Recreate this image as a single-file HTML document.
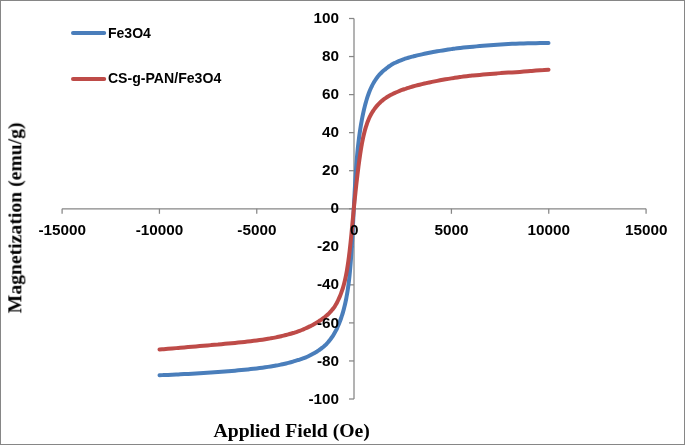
<!DOCTYPE html>
<html><head><meta charset="utf-8"><title>chart</title>
<style>
html,body{margin:0;padding:0;background:#fff;}
body{width:685px;height:445px;overflow:hidden;position:relative;font-family:"Liberation Sans",sans-serif;}
svg{position:absolute;left:0;top:0;display:block;}
.tick{font-family:"Liberation Sans",sans-serif;font-weight:bold;font-size:15.3px;letter-spacing:0px;fill:#000;}
.leg{font-family:"Liberation Sans",sans-serif;font-weight:bold;font-size:15px;fill:#000;}
.ttl{font-family:"Liberation Serif",serif;font-weight:bold;font-size:19.7px;fill:#000;}
</style></head><body>
<svg width="685" height="445" viewBox="0 0 685 445">
<rect x="0" y="0" width="685" height="445" fill="#ffffff"/>
<g fill="#868686" shape-rendering="crispEdges"><rect x="0" y="0" width="685" height="1"/><rect x="0" y="444" width="685" height="1"/><rect x="0" y="0" width="1" height="445"/><rect x="684" y="0" width="1" height="445"/></g>

<g stroke="#868686" stroke-width="1.25" fill="none">
<line x1="354.00" y1="18.50" x2="354.00" y2="399.00"/>
<line x1="62.10" y1="208.80" x2="646.08" y2="208.80"/>
<line x1="349.00" y1="18.50" x2="354.00" y2="18.50"/>
<line x1="349.00" y1="56.55" x2="354.00" y2="56.55"/>
<line x1="349.00" y1="94.60" x2="354.00" y2="94.60"/>
<line x1="349.00" y1="132.65" x2="354.00" y2="132.65"/>
<line x1="349.00" y1="170.70" x2="354.00" y2="170.70"/>
<line x1="349.00" y1="208.75" x2="354.00" y2="208.75"/>
<line x1="349.00" y1="246.80" x2="354.00" y2="246.80"/>
<line x1="349.00" y1="284.85" x2="354.00" y2="284.85"/>
<line x1="349.00" y1="322.90" x2="354.00" y2="322.90"/>
<line x1="349.00" y1="360.95" x2="354.00" y2="360.95"/>
<line x1="349.00" y1="399.00" x2="354.00" y2="399.00"/>
<line x1="62.10" y1="208.80" x2="62.10" y2="213.80"/>
<line x1="159.43" y1="208.80" x2="159.43" y2="213.80"/>
<line x1="256.76" y1="208.80" x2="256.76" y2="213.80"/>
<line x1="354.09" y1="208.80" x2="354.09" y2="213.80"/>
<line x1="451.42" y1="208.80" x2="451.42" y2="213.80"/>
<line x1="548.75" y1="208.80" x2="548.75" y2="213.80"/>
<line x1="646.08" y1="208.80" x2="646.08" y2="213.80"/>
</g>
<path d="M159.50,375.23 C160.21,375.20 162.34,375.12 163.75,375.06 C165.16,375.00 166.56,374.94 167.96,374.88 C169.35,374.82 170.73,374.75 172.11,374.69 C173.48,374.63 174.85,374.57 176.21,374.50 C177.56,374.44 178.91,374.37 180.26,374.31 C181.60,374.24 182.93,374.18 184.25,374.11 C185.58,374.04 186.89,373.98 188.20,373.91 C189.51,373.84 190.81,373.77 192.10,373.70 C193.39,373.63 194.67,373.56 195.94,373.48 C197.22,373.41 198.48,373.34 199.74,373.26 C201.00,373.19 202.25,373.11 203.49,373.03 C204.73,372.96 205.96,372.88 207.18,372.80 C208.40,372.72 209.62,372.64 210.83,372.56 C212.03,372.48 213.23,372.39 214.42,372.31 C215.61,372.23 216.79,372.14 217.97,372.05 C219.14,371.97 220.31,371.88 221.46,371.79 C222.62,371.70 223.77,371.61 224.91,371.51 C226.05,371.42 227.18,371.33 228.31,371.23 C229.43,371.13 230.55,371.04 231.65,370.94 C232.76,370.84 233.86,370.74 234.95,370.65 C236.04,370.55 237.13,370.45 238.20,370.35 C239.28,370.25 240.34,370.15 241.40,370.05 C242.46,369.95 243.51,369.85 244.55,369.75 C245.60,369.64 246.63,369.54 247.66,369.43 C248.68,369.33 249.70,369.22 250.71,369.11 C251.72,369.00 252.72,368.89 253.72,368.77 C254.71,368.66 255.70,368.54 256.67,368.42 C257.65,368.30 258.62,368.18 259.58,368.06 C260.54,367.93 261.50,367.80 262.44,367.68 C263.39,367.55 264.33,367.42 265.26,367.29 C266.19,367.16 267.11,367.03 268.02,366.89 C268.94,366.76 269.84,366.62 270.74,366.48 C271.64,366.34 272.53,366.19 273.41,366.04 C274.29,365.89 275.17,365.74 276.03,365.58 C276.90,365.42 277.76,365.26 278.61,365.09 C279.46,364.92 280.30,364.75 281.14,364.57 C281.97,364.39 282.80,364.21 283.62,364.02 C284.44,363.83 285.25,363.64 286.05,363.44 C286.85,363.24 287.65,363.04 288.44,362.83 C289.23,362.62 290.01,362.41 290.78,362.20 C291.55,361.98 292.32,361.77 293.08,361.55 C293.83,361.33 294.58,361.10 295.32,360.88 C296.07,360.65 296.80,360.43 297.53,360.21 C298.25,360.00 298.97,359.80 299.68,359.58 C300.39,359.37 301.10,359.16 301.79,358.93 C302.49,358.70 303.18,358.47 303.86,358.21 C304.54,357.94 305.21,357.65 305.88,357.37 C306.55,357.08 307.20,356.78 307.85,356.48 C308.51,356.18 309.15,355.87 309.78,355.55 C310.42,355.24 311.05,354.92 311.67,354.59 C312.29,354.27 312.90,353.94 313.51,353.60 C314.12,353.26 314.71,352.91 315.31,352.56 C315.90,352.20 316.48,351.84 317.06,351.48 C317.63,351.11 318.20,350.73 318.76,350.35 C319.33,349.96 319.88,349.57 320.43,349.17 C320.97,348.77 321.51,348.36 322.05,347.94 C322.58,347.52 323.10,347.10 323.62,346.65 C324.14,346.21 324.65,345.75 325.16,345.27 C325.66,344.79 326.16,344.30 326.64,343.79 C327.13,343.28 327.62,342.75 328.09,342.21 C328.57,341.67 329.03,341.12 329.49,340.55 C329.96,339.98 330.41,339.39 330.86,338.79 C331.30,338.19 331.74,337.57 332.17,336.93 C332.61,336.30 333.03,335.64 333.45,334.96 C333.87,334.28 334.28,333.57 334.69,332.85 C335.09,332.13 335.49,331.39 335.88,330.63 C336.27,329.87 336.65,329.10 337.03,328.29 C337.41,327.49 337.78,326.66 338.14,325.81 C338.51,324.96 338.86,324.08 339.21,323.20 C339.56,322.32 339.90,321.42 340.24,320.51 C340.58,319.60 340.91,318.68 341.23,317.74 C341.55,316.80 341.87,315.84 342.18,314.86 C342.49,313.87 342.79,312.86 343.09,311.83 C343.38,310.79 343.67,309.73 343.96,308.64 C344.24,307.55 344.52,306.44 344.79,305.29 C345.06,304.15 345.32,302.97 345.58,301.77 C345.84,300.56 346.09,299.32 346.33,298.05 C346.58,296.77 346.81,295.46 347.05,294.11 C347.28,292.76 347.50,291.37 347.72,289.93 C347.94,288.49 348.15,287.01 348.36,285.47 C348.57,283.93 348.77,282.35 348.96,280.70 C349.16,279.05 349.35,277.35 349.53,275.59 C349.71,273.83 349.89,272.01 350.06,270.14 C350.23,268.28 350.39,266.35 350.55,264.40 C350.71,262.44 350.86,260.44 351.01,258.42 C351.15,256.41 351.29,254.35 351.43,252.31 C351.56,250.28 351.69,248.21 351.81,246.19 C351.94,244.17 352.06,242.14 352.17,240.18 C352.28,238.22 352.39,236.29 352.49,234.43 C352.59,232.57 352.68,230.76 352.77,229.05 C352.86,227.33 352.95,225.68 353.03,224.13 C353.11,222.58 353.18,221.11 353.25,219.74 C353.32,218.38 353.38,217.10 353.44,215.93 C353.50,214.76 353.55,213.69 353.60,212.71 C353.65,211.73 353.69,210.86 353.73,210.07 C353.77,209.29 353.81,208.61 353.84,208.01 C353.87,207.41 353.89,206.91 353.91,206.48 C353.93,206.06 353.95,205.73 353.96,205.47 C353.98,205.21 353.99,205.03 353.99,204.92 C354.00,204.80 354.00,204.81 354.00,204.76 C354.00,204.71 354.00,204.73 354.01,204.61 C354.01,204.49 354.02,204.32 354.04,204.06 C354.05,203.80 354.07,203.47 354.09,203.05 C354.11,202.63 354.13,202.14 354.16,201.55 C354.19,200.96 354.23,200.29 354.27,199.53 C354.31,198.78 354.35,197.93 354.40,197.00 C354.45,196.07 354.50,195.04 354.56,193.94 C354.62,192.84 354.68,191.65 354.75,190.40 C354.82,189.14 354.89,187.79 354.97,186.39 C355.05,184.99 355.14,183.51 355.23,181.99 C355.32,180.46 355.41,178.87 355.51,177.26 C355.61,175.64 355.72,173.97 355.83,172.29 C355.94,170.61 356.06,168.90 356.19,167.19 C356.31,165.48 356.44,163.75 356.57,162.05 C356.71,160.34 356.85,158.63 356.99,156.94 C357.14,155.26 357.29,153.58 357.45,151.94 C357.61,150.29 357.77,148.67 357.94,147.07 C358.11,145.48 358.29,143.90 358.47,142.36 C358.65,140.81 358.84,139.29 359.04,137.79 C359.23,136.29 359.43,134.81 359.64,133.36 C359.85,131.90 360.06,130.47 360.28,129.06 C360.50,127.65 360.72,126.26 360.95,124.89 C361.19,123.52 361.42,122.18 361.67,120.85 C361.91,119.52 362.16,118.21 362.42,116.92 C362.68,115.63 362.94,114.36 363.21,113.11 C363.48,111.87 363.76,110.64 364.04,109.43 C364.33,108.22 364.62,107.04 364.91,105.87 C365.21,104.71 365.51,103.57 365.82,102.46 C366.13,101.36 366.45,100.27 366.77,99.22 C367.09,98.17 367.42,97.15 367.76,96.16 C368.10,95.16 368.44,94.20 368.79,93.26 C369.14,92.33 369.49,91.42 369.86,90.54 C370.22,89.66 370.59,88.81 370.97,87.99 C371.35,87.16 371.73,86.37 372.12,85.60 C372.51,84.83 372.91,84.08 373.31,83.36 C373.72,82.64 374.13,81.94 374.55,81.26 C374.97,80.58 375.39,79.92 375.83,79.29 C376.26,78.66 376.70,78.05 377.14,77.47 C377.59,76.89 378.04,76.33 378.51,75.78 C378.97,75.24 379.43,74.72 379.91,74.21 C380.38,73.69 380.87,73.19 381.36,72.71 C381.84,72.23 382.34,71.76 382.84,71.31 C383.35,70.86 383.86,70.42 384.38,70.00 C384.90,69.57 385.42,69.16 385.95,68.74 C386.49,68.33 387.03,67.91 387.57,67.50 C388.12,67.09 388.67,66.66 389.24,66.26 C389.80,65.86 390.37,65.46 390.94,65.09 C391.52,64.72 392.10,64.38 392.69,64.05 C393.29,63.71 393.88,63.40 394.49,63.09 C395.10,62.78 395.71,62.48 396.33,62.19 C396.95,61.90 397.58,61.62 398.22,61.35 C398.85,61.08 399.49,60.81 400.15,60.55 C400.80,60.30 401.45,60.05 402.12,59.80 C402.79,59.56 403.46,59.32 404.14,59.09 C404.82,58.86 405.51,58.64 406.21,58.42 C406.90,58.20 407.61,57.99 408.32,57.78 C409.03,57.57 409.75,57.36 410.47,57.16 C411.20,56.95 411.93,56.76 412.68,56.56 C413.42,56.36 414.17,56.17 414.92,55.98 C415.68,55.79 416.45,55.61 417.22,55.42 C417.99,55.24 418.77,55.06 419.56,54.88 C420.35,54.70 421.15,54.52 421.95,54.34 C422.75,54.17 423.56,53.99 424.38,53.82 C425.20,53.65 426.03,53.48 426.86,53.31 C427.70,53.14 428.54,52.97 429.39,52.80 C430.24,52.64 431.10,52.47 431.97,52.31 C432.83,52.14 433.71,51.98 434.59,51.82 C435.47,51.66 436.36,51.50 437.26,51.34 C438.16,51.19 439.06,51.03 439.98,50.88 C440.89,50.72 441.81,50.57 442.74,50.42 C443.67,50.27 444.61,50.12 445.56,49.97 C446.50,49.83 447.46,49.68 448.42,49.54 C449.38,49.39 450.35,49.25 451.33,49.11 C452.30,48.96 453.29,48.83 454.28,48.69 C455.28,48.55 456.28,48.42 457.29,48.29 C458.30,48.16 459.32,48.03 460.34,47.91 C461.37,47.79 462.40,47.67 463.45,47.56 C464.49,47.45 465.54,47.34 466.60,47.23 C467.66,47.13 468.72,47.03 469.80,46.93 C470.87,46.83 471.96,46.73 473.05,46.64 C474.14,46.55 475.24,46.46 476.35,46.37 C477.45,46.28 478.57,46.19 479.69,46.11 C480.82,46.02 481.95,45.94 483.09,45.86 C484.23,45.77 485.38,45.69 486.54,45.61 C487.69,45.52 488.86,45.44 490.03,45.35 C491.21,45.26 492.39,45.16 493.58,45.07 C494.77,44.98 495.97,44.89 497.17,44.80 C498.38,44.71 499.60,44.62 500.82,44.53 C502.04,44.45 503.27,44.36 504.51,44.29 C505.75,44.21 507.00,44.14 508.26,44.07 C509.52,44.00 510.78,43.94 512.06,43.87 C513.33,43.81 514.61,43.76 515.90,43.71 C517.19,43.66 518.49,43.61 519.80,43.57 C521.11,43.52 522.42,43.48 523.75,43.44 C525.07,43.40 526.40,43.36 527.74,43.33 C529.09,43.29 530.44,43.26 531.79,43.23 C533.15,43.20 534.52,43.18 535.89,43.15 C537.27,43.13 538.65,43.11 540.04,43.10 C541.44,43.08 542.84,43.07 544.25,43.05 C545.66,43.04 547.79,43.04 548.50,43.03" fill="none" stroke="#4a7ebb" stroke-width="4" stroke-linecap="round" stroke-linejoin="round"/>
<path d="M159.50,349.57 C160.21,349.50 162.34,349.32 163.75,349.20 C165.16,349.08 166.56,348.95 167.96,348.83 C169.35,348.71 170.73,348.59 172.11,348.48 C173.48,348.36 174.85,348.24 176.21,348.12 C177.56,348.01 178.91,347.89 180.26,347.78 C181.60,347.66 182.93,347.55 184.25,347.43 C185.58,347.32 186.89,347.21 188.20,347.09 C189.51,346.98 190.81,346.87 192.10,346.76 C193.39,346.65 194.67,346.54 195.94,346.43 C197.22,346.32 198.48,346.21 199.74,346.10 C201.00,345.99 202.25,345.88 203.49,345.78 C204.73,345.67 205.96,345.56 207.18,345.45 C208.40,345.35 209.62,345.24 210.83,345.13 C212.03,345.03 213.23,344.92 214.42,344.81 C215.61,344.71 216.79,344.60 217.97,344.50 C219.14,344.39 220.31,344.28 221.46,344.18 C222.62,344.07 223.77,343.97 224.91,343.86 C226.05,343.75 227.18,343.65 228.31,343.54 C229.43,343.43 230.55,343.33 231.65,343.22 C232.76,343.11 233.86,343.00 234.95,342.90 C236.04,342.79 237.13,342.68 238.20,342.57 C239.28,342.46 240.34,342.35 241.40,342.23 C242.46,342.12 243.51,342.01 244.55,341.90 C245.60,341.78 246.63,341.67 247.66,341.55 C248.68,341.43 249.70,341.32 250.71,341.20 C251.72,341.08 252.72,340.95 253.72,340.83 C254.71,340.71 255.70,340.58 256.67,340.46 C257.65,340.33 258.62,340.20 259.58,340.07 C260.54,339.94 261.50,339.80 262.44,339.66 C263.39,339.53 264.33,339.39 265.26,339.24 C266.19,339.10 267.11,338.95 268.02,338.80 C268.94,338.65 269.84,338.50 270.74,338.34 C271.64,338.18 272.53,338.02 273.41,337.85 C274.29,337.69 275.17,337.52 276.03,337.34 C276.90,337.17 277.76,336.99 278.61,336.80 C279.46,336.62 280.30,336.43 281.14,336.23 C281.97,336.04 282.80,335.84 283.62,335.63 C284.44,335.43 285.25,335.22 286.05,335.00 C286.85,334.79 287.65,334.58 288.44,334.36 C289.23,334.15 290.01,333.93 290.78,333.71 C291.55,333.48 292.32,333.26 293.08,333.02 C293.83,332.79 294.58,332.55 295.32,332.31 C296.07,332.07 296.80,331.82 297.53,331.56 C298.25,331.31 298.97,331.06 299.68,330.80 C300.39,330.54 301.10,330.27 301.79,330.00 C302.49,329.72 303.18,329.44 303.86,329.15 C304.54,328.86 305.21,328.56 305.88,328.26 C306.55,327.96 307.20,327.65 307.85,327.34 C308.51,327.03 309.15,326.72 309.78,326.41 C310.42,326.11 311.05,325.83 311.67,325.53 C312.29,325.23 312.90,324.93 313.51,324.60 C314.12,324.27 314.71,323.92 315.31,323.56 C315.90,323.20 316.48,322.83 317.06,322.45 C317.63,322.08 318.20,321.70 318.76,321.32 C319.33,320.94 319.88,320.55 320.43,320.17 C320.97,319.80 321.51,319.42 322.05,319.04 C322.58,318.67 323.10,318.31 323.62,317.93 C324.14,317.55 324.65,317.18 325.16,316.79 C325.66,316.40 326.16,316.00 326.64,315.58 C327.13,315.16 327.62,314.72 328.09,314.27 C328.57,313.82 329.03,313.36 329.49,312.88 C329.96,312.40 330.41,311.91 330.86,311.41 C331.30,310.90 331.74,310.39 332.17,309.86 C332.61,309.33 333.03,308.79 333.45,308.24 C333.87,307.68 334.28,307.13 334.69,306.52 C335.09,305.91 335.49,305.27 335.88,304.60 C336.27,303.93 336.65,303.22 337.03,302.50 C337.41,301.77 337.78,301.02 338.14,300.25 C338.51,299.48 338.86,298.70 339.21,297.89 C339.56,297.09 339.90,296.27 340.24,295.44 C340.58,294.61 340.91,293.78 341.23,292.90 C341.55,292.03 341.87,291.13 342.18,290.19 C342.49,289.26 342.79,288.29 343.09,287.30 C343.38,286.30 343.67,285.28 343.96,284.22 C344.24,283.17 344.52,282.08 344.79,280.95 C345.06,279.81 345.32,278.64 345.58,277.42 C345.84,276.20 346.09,274.94 346.33,273.65 C346.58,272.35 346.81,271.01 347.05,269.64 C347.28,268.27 347.50,266.85 347.72,265.42 C347.94,263.98 348.15,262.51 348.36,261.02 C348.57,259.53 348.77,258.02 348.96,256.49 C349.16,254.97 349.35,253.42 349.53,251.87 C349.71,250.33 349.89,248.77 350.06,247.24 C350.23,245.70 350.39,244.16 350.55,242.66 C350.71,241.15 350.86,239.65 351.01,238.20 C351.15,236.74 351.29,235.31 351.43,233.93 C351.56,232.54 351.69,231.19 351.81,229.90 C351.94,228.61 352.06,227.36 352.17,226.16 C352.28,224.97 352.39,223.83 352.49,222.75 C352.59,221.67 352.68,220.64 352.77,219.67 C352.86,218.71 352.95,217.80 353.03,216.95 C353.11,216.10 353.18,215.31 353.25,214.58 C353.32,213.84 353.38,213.17 353.44,212.55 C353.50,211.93 353.55,211.37 353.60,210.85 C353.65,210.34 353.69,209.89 353.73,209.48 C353.77,209.07 353.81,208.72 353.84,208.41 C353.87,208.10 353.89,207.84 353.91,207.62 C353.93,207.40 353.95,207.23 353.96,207.09 C353.98,206.96 353.99,206.87 353.99,206.81 C354.00,206.75 354.00,206.75 354.00,206.73 C354.00,206.70 354.00,206.71 354.01,206.65 C354.01,206.59 354.02,206.50 354.04,206.36 C354.05,206.23 354.07,206.06 354.09,205.84 C354.11,205.63 354.13,205.37 354.16,205.07 C354.19,204.76 354.23,204.42 354.27,204.02 C354.31,203.63 354.35,203.19 354.40,202.71 C354.45,202.22 354.50,201.69 354.56,201.11 C354.62,200.54 354.68,199.91 354.75,199.24 C354.82,198.57 354.89,197.86 354.97,197.09 C355.05,196.33 355.14,195.52 355.23,194.67 C355.32,193.82 355.41,192.92 355.51,191.98 C355.61,191.04 355.72,190.06 355.83,189.03 C355.94,188.01 356.06,186.94 356.19,185.83 C356.31,184.72 356.44,183.57 356.57,182.38 C356.71,181.20 356.85,179.97 356.99,178.71 C357.14,177.45 357.29,176.15 357.45,174.83 C357.61,173.51 357.77,172.15 357.94,170.77 C358.11,169.39 358.29,167.98 358.47,166.56 C358.65,165.14 358.84,163.69 359.04,162.24 C359.23,160.79 359.43,159.32 359.64,157.87 C359.85,156.41 360.06,154.95 360.28,153.51 C360.50,152.08 360.72,150.64 360.95,149.24 C361.19,147.83 361.42,146.44 361.67,145.08 C361.91,143.73 362.16,142.39 362.42,141.10 C362.68,139.80 362.94,138.53 363.21,137.30 C363.48,136.07 363.76,134.87 364.04,133.72 C364.33,132.56 364.62,131.44 364.91,130.35 C365.21,129.27 365.51,128.22 365.82,127.21 C366.13,126.20 366.45,125.22 366.77,124.28 C367.09,123.34 367.42,122.44 367.76,121.56 C368.10,120.69 368.44,119.85 368.79,119.04 C369.14,118.23 369.49,117.46 369.86,116.70 C370.22,115.95 370.59,115.23 370.97,114.53 C371.35,113.83 371.73,113.16 372.12,112.50 C372.51,111.85 372.91,111.22 373.31,110.61 C373.72,110.00 374.13,109.41 374.55,108.83 C374.97,108.26 375.39,107.71 375.83,107.16 C376.26,106.62 376.70,106.10 377.14,105.59 C377.59,105.08 378.04,104.59 378.51,104.10 C378.97,103.62 379.43,103.15 379.91,102.69 C380.38,102.24 380.87,101.79 381.36,101.36 C381.84,100.93 382.34,100.52 382.84,100.11 C383.35,99.71 383.86,99.31 384.38,98.93 C384.90,98.55 385.42,98.18 385.95,97.82 C386.49,97.46 387.03,97.11 387.57,96.77 C388.12,96.43 388.67,96.10 389.24,95.78 C389.80,95.46 390.37,95.14 390.94,94.84 C391.52,94.53 392.10,94.24 392.69,93.95 C393.29,93.66 393.88,93.37 394.49,93.09 C395.10,92.82 395.71,92.55 396.33,92.28 C396.95,92.01 397.58,91.75 398.22,91.49 C398.85,91.23 399.49,90.98 400.15,90.73 C400.80,90.48 401.45,90.23 402.12,89.99 C402.79,89.74 403.46,89.49 404.14,89.25 C404.82,89.01 405.51,88.78 406.21,88.55 C406.90,88.31 407.61,88.08 408.32,87.86 C409.03,87.63 409.75,87.41 410.47,87.19 C411.20,86.97 411.93,86.76 412.68,86.54 C413.42,86.33 414.17,86.12 414.92,85.91 C415.68,85.71 416.45,85.50 417.22,85.30 C417.99,85.10 418.77,84.90 419.56,84.70 C420.35,84.50 421.15,84.31 421.95,84.11 C422.75,83.92 423.56,83.73 424.38,83.54 C425.20,83.35 426.03,83.16 426.86,82.98 C427.70,82.79 428.54,82.61 429.39,82.43 C430.24,82.25 431.10,82.07 431.97,81.89 C432.83,81.71 433.71,81.54 434.59,81.36 C435.47,81.19 436.36,81.02 437.26,80.85 C438.16,80.68 439.06,80.51 439.98,80.34 C440.89,80.17 441.81,80.00 442.74,79.84 C443.67,79.67 444.61,79.50 445.56,79.34 C446.50,79.17 447.46,79.01 448.42,78.85 C449.38,78.68 450.35,78.52 451.33,78.36 C452.30,78.20 453.29,78.04 454.28,77.89 C455.28,77.73 456.28,77.58 457.29,77.43 C458.30,77.28 459.32,77.13 460.34,76.99 C461.37,76.85 462.40,76.70 463.45,76.57 C464.49,76.44 465.54,76.31 466.60,76.19 C467.66,76.07 468.72,75.95 469.80,75.84 C470.87,75.72 471.96,75.62 473.05,75.51 C474.14,75.40 475.24,75.30 476.35,75.20 C477.45,75.09 478.57,74.99 479.69,74.89 C480.82,74.79 481.95,74.69 483.09,74.58 C484.23,74.48 485.38,74.37 486.54,74.26 C487.69,74.16 488.86,74.06 490.03,73.95 C491.21,73.85 492.39,73.75 493.58,73.66 C494.77,73.56 495.97,73.47 497.17,73.38 C498.38,73.28 499.60,73.19 500.82,73.11 C502.04,73.02 503.27,72.93 504.51,72.85 C505.75,72.77 507.00,72.69 508.26,72.61 C509.52,72.54 510.78,72.48 512.06,72.42 C513.33,72.35 514.61,72.29 515.90,72.21 C517.19,72.13 518.49,72.04 519.80,71.94 C521.11,71.83 522.42,71.71 523.75,71.60 C525.07,71.48 526.40,71.36 527.74,71.25 C529.09,71.13 530.44,71.03 531.79,70.92 C533.15,70.80 534.52,70.68 535.89,70.56 C537.27,70.44 538.65,70.31 540.04,70.20 C541.44,70.09 542.84,69.98 544.25,69.89 C545.66,69.80 547.79,69.71 548.50,69.68" fill="none" stroke="#be4b48" stroke-width="4" stroke-linecap="round" stroke-linejoin="round"/>
<line x1="73" y1="33.1" x2="104.2" y2="33.1" stroke="#4a7ebb" stroke-width="4" stroke-linecap="round"/>
<line x1="73" y1="78.9" x2="104.2" y2="78.9" stroke="#be4b48" stroke-width="4" stroke-linecap="round"/>
<g id="labels" opacity="0.999">
<text class="leg" x="107.9" y="37.9" textLength="43.0" lengthAdjust="spacingAndGlyphs">Fe3O4</text>
<text class="leg" x="107.9" y="83.0" textLength="113.4" lengthAdjust="spacingAndGlyphs">CS-g-PAN/Fe3O4</text>
<text class="tick" x="339.0" y="23.10" text-anchor="end">100</text>
<text class="tick" x="339.0" y="61.15" text-anchor="end">80</text>
<text class="tick" x="339.0" y="99.20" text-anchor="end">60</text>
<text class="tick" x="339.0" y="137.25" text-anchor="end">40</text>
<text class="tick" x="339.0" y="175.30" text-anchor="end">20</text>
<text class="tick" x="339.0" y="213.35" text-anchor="end">0</text>
<text class="tick" x="339.0" y="251.40" text-anchor="end">-20</text>
<text class="tick" x="339.0" y="289.45" text-anchor="end">-40</text>
<text class="tick" x="339.0" y="327.50" text-anchor="end">-60</text>
<text class="tick" x="339.0" y="365.55" text-anchor="end">-80</text>
<text class="tick" x="339.0" y="403.60" text-anchor="end">-100</text>
<text class="tick" x="62.20" y="234.90" text-anchor="middle">-15000</text>
<text class="tick" x="159.53" y="234.90" text-anchor="middle">-10000</text>
<text class="tick" x="256.86" y="234.90" text-anchor="middle">-5000</text>
<text class="tick" x="354.19" y="234.90" text-anchor="middle">0</text>
<text class="tick" x="451.52" y="234.90" text-anchor="middle">5000</text>
<text class="tick" x="548.85" y="234.90" text-anchor="middle">10000</text>
<text class="tick" x="646.18" y="234.90" text-anchor="middle">15000</text>
<text class="ttl" x="291.7" y="436.6" text-anchor="middle">Applied Field (Oe)</text>
<text class="ttl" transform="translate(21.35,217.8) rotate(-90)" text-anchor="middle">Magnetization (emu/g)</text>
</g>
</svg></body></html>
